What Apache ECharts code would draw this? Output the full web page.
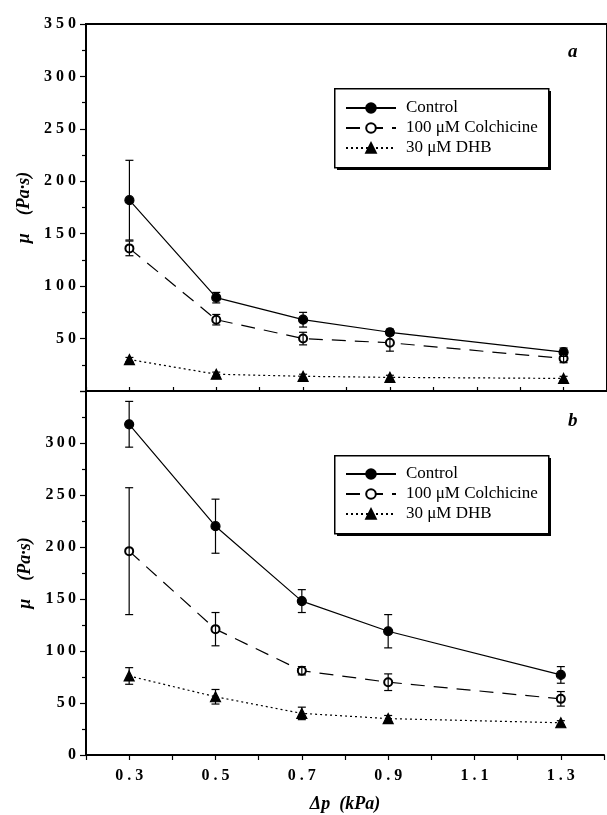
<!DOCTYPE html>
<html>
<head>
<meta charset="utf-8">
<title>viscosity vs pressure</title>
<script src="https://cdn.jsdelivr.net/npm/echarts@6/dist/echarts.min.js"></script>
<style>
    html, body { margin: 0; padding: 0; background: #fff; }
    #chart { width: 607px; height: 815px; }
</style>
</head>
<body>
<div id="chart"></div>
<script>
var xValues = [0.3, 0.5, 0.7, 0.9, 1.3];
var xTickLabels = ['0.3', '0.5', '0.7', '0.9', '1.1', '1.3'];
var seriesNames = ['Control', '100 μM Colchicine', '30 μM DHB'];

// panel a
var controlA = [182, 89, 68, 56, 37];
var controlAErr = [38, 5, 7, 3, 4];
var colchA = [136, 68, 50, 46, 31];
var colchAErr = [7, 5, 6, 8, 4];
var dhbA = [30, 16, 14, 13, 12];
var dhbAErr = [2, 2, 2, 2, 2];

// panel b
var controlB = [318, 220, 148, 119, 77];
var controlBErr = [22, 26, 11, 16, 8];
var colchB = [196, 121, 81, 70, 54];
var colchBErr = [61, 16, 4, 8, 7];
var dhbB = [76, 56, 40, 35, 31];
var dhbBErr = [8, 7, 6, 3, 2];

var serif = 'Liberation Serif';
var styles = [
    {type: 'solid', symbol: 'circle', size: 9},
    {type: [14, 9], symbol: 'emptyCircle', size: 8},
    {type: [2, 3], symbol: 'triangle', size: 10}
];

function pairs(vals) {
    return xValues.map(function (x, i) { return [x, vals[i]]; });
}

function lineSeries(k, vals, idx) {
    var s = styles[k];
    return {
        name: seriesNames[k],
        type: 'line',
        xAxisIndex: idx, yAxisIndex: idx,
        data: pairs(vals),
        symbol: s.symbol,
        symbolSize: s.size,
        showSymbol: true,
        lineStyle: {color: '#000', width: 1.2, type: s.type},
        itemStyle: {color: '#000', borderColor: '#000', borderWidth: 1.2},
        z: 3
    };
}

function errSeries(vals, errs, idx) {
    return {
        name: 'err',
        type: 'custom',
        xAxisIndex: idx, yAxisIndex: idx,
        data: xValues.map(function (x, i) { return [x, vals[i] - errs[i], vals[i] + errs[i]]; }),
        encode: {x: 0, y: [1, 2]},
        renderItem: function (params, api) {
            var x = api.value(0);
            var top = api.coord([x, api.value(2)]);
            var bot = api.coord([x, api.value(1)]);
            var w = 4;
            var st = {stroke: '#000', lineWidth: 1.2};
            return {
                type: 'group',
                children: [
                    {type: 'line', shape: {x1: top[0], y1: top[1], x2: bot[0], y2: bot[1]}, style: st},
                    {type: 'line', shape: {x1: top[0] - w, y1: top[1], x2: top[0] + w, y2: top[1]}, style: st},
                    {type: 'line', shape: {x1: bot[0] - w, y1: bot[1], x2: bot[0] + w, y2: bot[1]}, style: st}
                ]
            };
        },
        z: 4
    };
}

function xAxisLabel(v) {
    var t = v.toFixed(1);
    return xTickLabels.indexOf(t) >= 0 ? t.split('').join(' ') : '';
}

function legendItems(top) {
    return {
        left: 345, top: top,
        orient: 'vertical',
        data: seriesNames,
        itemWidth: 50, itemHeight: 12, itemGap: 2,
        padding: 0,
        textStyle: {fontFamily: serif, fontSize: 17, color: '#000', lineHeight: 18, padding: [0, 0, 0, 5]},
        selectedMode: false,
        z: 10
    };
}

// framed box with a solid drop shadow behind each legend
function legendFrame(top, h) {
    return [
        {type: 'rect', left: 337, top: top + 3, z: 5, shape: {width: 214, height: h}, style: {fill: '#000'}},
        {type: 'rect', left: 334, top: top, z: 6, shape: {width: 214, height: h}, style: {fill: '#fff', stroke: '#000', lineWidth: 1.5}}
    ];
}

var chart = echarts.init(document.getElementById('chart'));
var yAxisBase = {
    type: 'value', min: 0, max: 350, interval: 50,
    name: 'μ    (Pa·s)', nameLocation: 'middle', nameGap: 52,
    nameTextStyle: {fontFamily: serif, fontSize: 18, fontWeight: 'bold', fontStyle: 'italic', color: '#000'},
    axisLine: {show: true, lineStyle: {color: '#000', width: 2}},
    axisTick: {show: true, length: 6, lineStyle: {color: '#000', width: 1.2}},
    minorTick: {show: true, splitNumber: 2, length: 4, lineStyle: {color: '#000', width: 1.2}},
    splitLine: {show: false},
    axisLabel: {fontFamily: serif, fontSize: 16, fontWeight: 'bold', color: '#000', margin: 10}
};

var option = {
    backgroundColor: '#fff',
    animation: false,
    grid: [
        {left: 86, right: -7, top: 24, height: 367, show: true, borderColor: '#000', borderWidth: 2, backgroundColor: 'transparent'},
        {left: 86, right: -7, top: 391, height: 364}
    ],
    legend: [legendItems(99), legendItems(465)],
    xAxis: [
        {
            type: 'value', gridIndex: 0, min: 0.2, max: 1.4, interval: 0.1,
            axisLine: {lineStyle: {color: '#000', width: 2}},
            axisTick: {inside: true, length: 4, lineStyle: {color: '#000', width: 1.2}},
            axisLabel: {show: false},
            splitLine: {show: false}
        },
        {
            type: 'value', gridIndex: 1, min: 0.2, max: 1.4, interval: 0.1,
            name: 'Δp  (kPa)', nameLocation: 'middle', nameGap: 40,
            nameTextStyle: {fontFamily: serif, fontSize: 18, fontWeight: 'bold', fontStyle: 'italic', color: '#000'},
            axisLine: {lineStyle: {color: '#000', width: 2}},
            axisTick: {length: 5, lineStyle: {color: '#000', width: 1.2}},
            axisLabel: {
                fontFamily: serif, fontSize: 16, fontWeight: 'bold', color: '#000', margin: 13,
                showMinLabel: true, showMaxLabel: true, hideOverlap: false,
                formatter: xAxisLabel
            },
            splitLine: {show: false}
        }
    ],
    yAxis: [
        echarts.util.merge({
            gridIndex: 0,
            axisLabel: {
                showMinLabel: false,
                formatter: function (v) { return String(v).split('').join(' '); }
            }
        }, yAxisBase),
        echarts.util.merge({
            gridIndex: 1,
            axisLabel: {
                showMaxLabel: false,
                formatter: function (v) { return String(v).split('').join('\u2009'); }
            }
        }, yAxisBase)
    ],
    graphic: legendFrame(88, 79).concat(legendFrame(455, 78)).concat([
        {type: 'text', left: 568, top: 43, style: {text: 'a', font: 'italic bold 19px "Liberation Serif"', fill: '#000'}},
        {type: 'text', left: 568, top: 412, style: {text: 'b', font: 'italic bold 19px "Liberation Serif"', fill: '#000'}}
    ]),
    series: [
        lineSeries(0, controlA, 0), lineSeries(1, colchA, 0), lineSeries(2, dhbA, 0),
        errSeries(controlA, controlAErr, 0), errSeries(colchA, colchAErr, 0), errSeries(dhbA, dhbAErr, 0),
        lineSeries(0, controlB, 1), lineSeries(1, colchB, 1), lineSeries(2, dhbB, 1),
        errSeries(controlB, controlBErr, 1), errSeries(colchB, colchBErr, 1), errSeries(dhbB, dhbBErr, 1)
    ]
};
chart.setOption(option);
</script>
</body>
</html>
